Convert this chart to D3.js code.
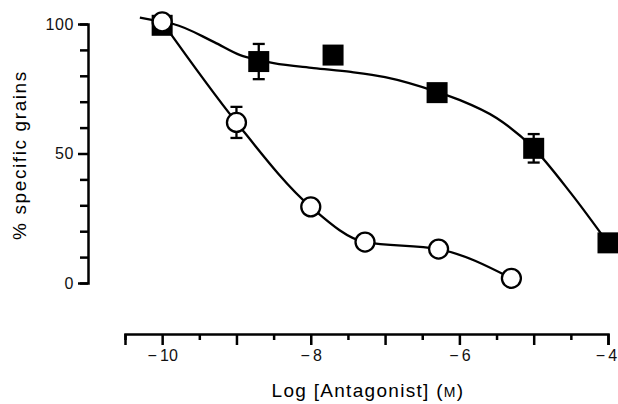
<!DOCTYPE html>
<html>
<head>
<meta charset="utf-8">
<script src="https://cdn.jsdelivr.net/npm/d3@7"></script>
<style>
  body { margin: 0; background: #fff; }
  svg { display: block; font-family: "Liberation Sans", Arial, sans-serif; }
  .axis path, .axis line { stroke: #000; stroke-width: 2.5; }
  .axis text { font-size: 16px; fill: #111; }
  .y.axis text { letter-spacing: 0.6px; }
</style>
</head>
<body>
<svg width="618" height="404"></svg>
<script>
// filled squares
const squareX = [-10, -8.7, -7.7, -6.3, -5.0, -4.0];
const squareY = [99.5, 85.5, 88, 73.5, 52, 15.5];
const squareErr = [0, 6.8, 0, 2.5, 5.5, 0];
// fitted curve through squares
const squareFitX = [-10.3, -10, -9.85, -9.3, -8.95, -8.7, -8.5, -7.96, -7.46, -7, -6.3, -6, -5.5, -5, -4.5, -4];
const squareFitY = [102.5, 100.8, 100, 93, 88, 86.1, 84.9, 83, 81.5, 79.5, 73.8, 70.7, 63.7, 52, 34.7, 15.4];
// open circles
const circleX = [-10, -9, -8, -7.27, -6.28, -5.3];
const circleY = [100.8, 62, 29.4, 15.8, 13.1, 1.8];
const circleErr = [0, 6, 0, 0, 0, 0];

const xTicks = d3.range(-10.5, -3.99, 0.5);
const xLabels = [-10, -8, -6, -4];
const yTicks = d3.range(0, 101, 10);
const yLabels = [0, 50, 100];

const svg = d3.select('svg');
const x = d3.scaleLinear().domain([-10.5, -4]).range([125, 608]);
const y = d3.scaleLinear().domain([0, 100]).range([283, 24]);

// y axis
const yAxis = svg.append('g')
  .attr('class', 'y axis')
  .attr('transform', 'translate(88,0)')
  .call(d3.axisLeft(y)
    .tickValues(yTicks)
    .tickSizeOuter(0)
    .tickSize(8)
    .tickPadding(6)
    .tickFormat(d => yLabels.includes(d) ? d : ''));
yAxis.selectAll('.tick line').attr('x2', d => yLabels.includes(d) ? -10 : -8);

// x axis, offset below
const xAxis = svg.append('g')
  .attr('class', 'x axis')
  .attr('transform', 'translate(0,334)')
  .call(d3.axisBottom(x)
    .tickValues(xTicks)
    .tickSizeOuter(0)
    .tickSize(11)
    .tickPadding(5)
    .tickFormat(d => xLabels.includes(d) ? '\u2212\u2009' + Math.abs(d) : ''));
xAxis.selectAll('.tick line').attr('y2', d => Number.isInteger(d) ? 11 : 6);
xAxis.selectAll('.tick text').attr('dx', d => d === -4 ? -2 : 0);

svg.append('text')
  .attr('transform', 'translate(26,155) rotate(-90)')
  .attr('text-anchor', 'middle')
  .style('font-size', '19px')
  .style('letter-spacing', '1.6px')
  .text('% specific grains');

const xt = svg.append('text')
  .attr('x', 368)
  .attr('y', 397)
  .attr('text-anchor', 'middle')
  .style('font-size', '19px')
  .style('letter-spacing', '1.3px');
xt.append('tspan').text('Log [Antagonist] (');
xt.append('tspan').style('font-size', '14px').text('M');
xt.append('tspan').text(')');

// curves
svg.append('path')
  .datum(squareFitX.map((v, i) => [v, squareFitY[i]]))
  .attr('fill', 'none')
  .attr('stroke', '#000')
  .attr('stroke-width', 2.3)
  .attr('d', d3.line().x(d => x(d[0])).y(d => y(d[1])).curve(d3.curveMonotoneX));

svg.append('path')
  .datum(circleX.map((v, i) => [v, circleY[i]]))
  .attr('fill', 'none')
  .attr('stroke', '#000')
  .attr('stroke-width', 2.3)
  .attr('d', d3.line().x(d => x(d[0])).y(d => y(d[1])).curve(d3.curveMonotoneX));

// error bars
function errorBars(xs, ys, es) {
  const g = svg.append('g').attr('stroke', '#000').attr('stroke-width', 2.3);
  xs.forEach((v, i) => {
    if (!es[i]) return;
    const cx = x(v);
    g.append('line').attr('x1', cx).attr('x2', cx)
      .attr('y1', y(ys[i] + es[i])).attr('y2', y(ys[i] - es[i]));
    [ys[i] + es[i], ys[i] - es[i]].forEach(t => {
      g.append('line').attr('x1', cx - 6).attr('x2', cx + 6)
        .attr('y1', y(t)).attr('y2', y(t));
    });
  });
}
errorBars(squareX, squareY, squareErr);
errorBars(circleX, circleY, circleErr);

// squares
svg.append('g').selectAll('rect')
  .data(squareX.map((v, i) => [v, squareY[i]]))
  .enter()
  .append('rect')
  .attr('x', d => x(d[0]) - 10.5)
  .attr('y', d => y(d[1]) - 10.5)
  .attr('width', 21)
  .attr('height', 21)
  .attr('fill', '#000');

// circles
svg.append('g').selectAll('circle')
  .data(circleX.map((v, i) => [v, circleY[i]]))
  .enter()
  .append('circle')
  .attr('cx', d => x(d[0]))
  .attr('cy', d => y(d[1]))
  .attr('r', 9.5)
  .attr('fill', '#fff')
  .attr('stroke', '#000')
  .attr('stroke-width', 2.3);
</script>
</body>
</html>
